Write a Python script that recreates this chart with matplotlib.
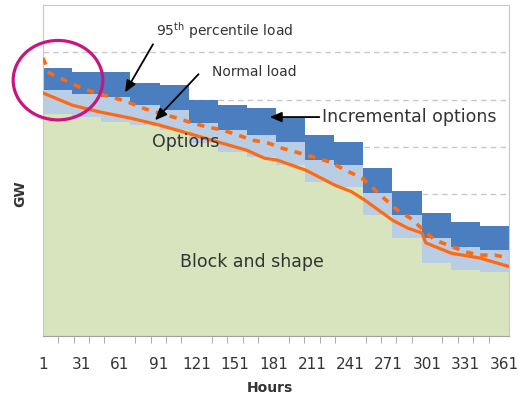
import matplotlib
matplotlib.use("Agg")
import matplotlib.pyplot as plt
from matplotlib.patches import Ellipse
import numpy as np

# block levels (16 blocks over the year of hours)
block_shape = [46.9, 46.3, 45.2, 44.6, 43.6, 40.8, 38.9, 37.8,
               36.2, 32.6, 31.6, 25.6, 20.7, 15.4, 14.0, 13.6]
options_top = [52.0, 51.2, 50.5, 48.8, 47.8, 45.0, 43.6, 42.5,
               41.1, 37.2, 36.2, 30.2, 25.6, 20.7, 18.9, 18.2]
incremental_top = [56.7, 55.9, 55.9, 53.6, 53.1, 49.9, 48.8, 48.2,
                   46.2, 42.5, 41.1, 35.5, 30.7, 26.0, 24.2, 23.3]

# normal load (solid orange)
normal_hours = [1, 24, 45, 69, 92, 114, 138, 160, 174, 184, 206, 229,
                242, 252, 274, 286, 297, 300, 320, 342, 365]
normal_load = [51.4, 48.8, 47.4, 46.1, 44.6, 42.9, 41.0, 39.3, 37.6, 37.2,
               35.1, 31.9, 30.5, 28.8, 24.5, 22.8, 21.8, 19.7, 17.5, 16.5, 14.7]

# 95th percentile load (dashed orange)
p95_hours = [1, 6, 18, 30, 42, 55, 67, 79, 92, 103, 116, 129, 141, 153,
             165, 177, 188, 213, 225, 237, 250, 258, 267, 278, 288, 307,
             331, 341, 354, 365]
p95_load = [58.8, 55.6, 54.1, 52.6, 51.4, 50.5, 49.5, 48.2, 47.1, 46.3,
            45.2, 44.2, 43.6, 42.5, 41.4, 40.8, 39.7, 37.8, 36.8, 35.1,
            33.4, 31.5, 29.2, 26.6, 24.9, 20.3, 17.8, 17.1, 17.1, 16.5]

tick_labels = list(range(1, 362, 30))

green = '#D7E4BD'
light = '#B9CDE5'
dark = '#4A7EBF'
orange = '#FF6A10'
txt = '#333333'

fig = plt.figure(figsize=(5.18, 4.04), dpi=100)
ax = fig.add_axes([43 / 518, 68 / 404, 466 / 518, 331 / 404])

edges = np.linspace(1, 365, len(block_shape) + 1)
ax.stairs(block_shape, edges, baseline=0, fill=True, color=green, zorder=2)
ax.stairs(options_top, edges, baseline=block_shape, fill=True, color=light, zorder=2)
ax.stairs(incremental_top, edges, baseline=options_top, fill=True, color=dark, zorder=2)

ax.plot(normal_hours, normal_load, color=orange, lw=2.3, zorder=4)
ax.plot(p95_hours, p95_load, color=orange, lw=2.6, ls=(0, (2, 2)), zorder=4)

ax.set_xlim(1, 365)
ax.set_ylim(0, 70)
ax.set_yticks(range(10, 70, 10))
ax.set_yticklabels([])
ax.tick_params(axis='y', length=0)
ax.grid(axis='y', color='#C8C8C8', ls=(0, (4, 3)), lw=1, zorder=1)
ax.set_axisbelow(True)

ax.set_xticks(tick_labels)
ax.set_xticklabels([str(t) for t in tick_labels], fontsize=11, color=txt)
ax.set_xticks(range(1, 366, 12), minor=True)
ax.tick_params(axis='x', which='major', length=0, pad=15)
ax.tick_params(axis='x', which='minor', length=5, color='#A0A0A0')

for s in ['left', 'top', 'right']:
    ax.spines[s].set_color('#C8C8C8')
ax.spines['bottom'].set_color('#A0A0A0')

ax.set_xlabel('Hours', fontsize=10, fontweight='bold', color=txt)
ax.xaxis.set_label_coords(0.487, -0.135)
ax.set_ylabel('GW', fontsize=10, fontweight='bold', color=txt)
ax.yaxis.set_label_coords(-0.033, 0.43)

arrow = dict(arrowstyle='-|>,head_length=0.7,head_width=0.3', color='black', lw=1.3)
ax.annotate('', xy=(64, 51.0), xytext=(88, 62.2), arrowprops=arrow, zorder=6)
ax.annotate('', xy=(87, 45.2), xytext=(124, 55.8), arrowprops=arrow, zorder=6)
ax.annotate('', xy=(176, 46.3), xytext=(219, 46.3), arrowprops=arrow, zorder=6)

ax.text(89, 64.7, r'95$^{\mathrm{th}}$ percentile load', fontsize=10, color=txt,
        ha='left', va='center', zorder=7)
ax.text(133, 55.8, 'Normal load', fontsize=10, color=txt, ha='left', va='center', zorder=7)
ax.text(219, 46.3, 'Incremental options', fontsize=12.5, color=txt,
        ha='left', va='center', zorder=7)
ax.text(86, 41.0, 'Options', fontsize=12.5, color=txt, ha='left', va='center', zorder=7)
ax.text(108, 15.6, 'Block and shape', fontsize=12.5, color=txt,
        ha='left', va='center', zorder=7)

ax.add_patch(Ellipse((12.7, 54.1), 70, 16.8, fill=False, ec='#CC1480', lw=2.3,
                     clip_on=False, zorder=8))

fig.savefig('out.png', dpi=100)
